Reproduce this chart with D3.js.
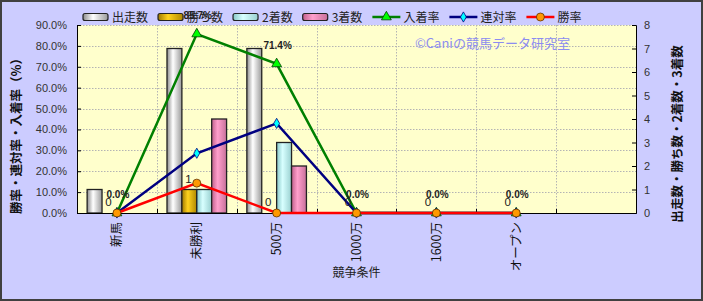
<!DOCTYPE html>
<html><head><meta charset="utf-8">
<script src="https://cdn.jsdelivr.net/npm/d3@7/dist/d3.min.js"></script>
<style>body{margin:0;background:#fff}svg{display:block}</style>
</head><body>
<script>
const categories = ["新馬","未勝利","500万","1000万","1600万","オープン"];
const slots = categories.concat([" "]);
const runs   = [1,7,7,0,0,0];   // 出走数
const wins   = [0,1,0,0,0,0];   // 勝ち数
const second = [0,1,3,0,0,0];   // 2着数
const third  = [0,4,2,0,0,0];   // 3着数
const placeRate = [0,85.7,71.4,0,0,0]; // 入着率
const rentaiRate = [0,28.6,42.9,0,0,0]; // 連対率
const winRate = [0,14.3,0,0,0,0];       // 勝率
const leftTicks = [0,10,20,30,40,50,60,70,80,90];
const rightTicks = [0,1,2,3,4,5,6,7,8];
const barNames = ["出走数","勝ち数","2着数","3着数"];
const lineNames = ["入着率","連対率","勝率"];

const W=703,H=301;
const m={l:77,r:636,t:25,b:213};
const FONT='"Noto Sans CJK JP","Liberation Sans",sans-serif';
const svg=d3.select("body").append("svg").attr("width",W).attr("height",H);
const defs=svg.append("defs");
const grads=[["g0","#8c8c8c","#ffffff","#9a9a9a"],["g1","#a07800","#ffd21e","#b08800"],["g2","#88c8c8","#d8ffff","#99d0d0"],["g3","#c0608c","#ff9fcc","#c8709a"]];
grads.forEach(g=>{const lg=defs.append("linearGradient").attr("id",g[0]).attr("x1","0").attr("x2","1").attr("y1","0").attr("y2","0");
lg.append("stop").attr("offset","0%").attr("stop-color",g[1]);
lg.append("stop").attr("offset","40%").attr("stop-color",g[2]);
lg.append("stop").attr("offset","100%").attr("stop-color",g[3]);});

svg.append("rect").attr("x",1).attr("y",1).attr("width",W-2).attr("height",H-2).attr("fill","#ccccff").attr("stroke","#404040").attr("stroke-width",2);
svg.append("rect").attr("x",m.l).attr("y",m.t).attr("width",m.r-m.l).attr("height",m.b-m.t).attr("fill","#ffffcc");

const x=d3.scaleBand().domain(slots).range([m.l,m.r]);
const yL=d3.scaleLinear().domain([0,90]).range([m.b,m.t]);
const yR=d3.scaleLinear().domain([0,8]).range([m.b,m.t]);
const xi=d3.scaleBand().domain(barNames).range([0,x.bandwidth()]).paddingOuter(0.68);
const cx=c=>x(c)+x.bandwidth()/2;

// grid
const grid=svg.append("g").attr("stroke","#b4b4b4").attr("stroke-dasharray","1.5,1.5").attr("stroke-width",1);
leftTicks.slice(1).forEach(t=>grid.append("line").attr("x1",m.l).attr("x2",m.r).attr("y1",Math.round(yL(t))+0.5).attr("y2",Math.round(yL(t))+0.5));
slots.slice(1).forEach(s=>grid.append("line").attr("x1",Math.round(x(s))+0.5).attr("x2",Math.round(x(s))+0.5).attr("y1",m.t).attr("y2",m.b));

// watermark
svg.append("text").attr("x",415).attr("y",48).attr("font-family",FONT).attr("font-size",13).attr("fill","#8c8cf0").text("©Caniの競馬データ研究室");

// bars
const barSeries=[runs,wins,second,third];
barSeries.forEach((vals,si)=>{
  svg.append("g").selectAll("rect").data(vals).join("rect")
   .attr("x",(d,i)=>x(categories[i])+xi(barNames[si]))
   .attr("width",xi.bandwidth())
   .attr("y",d=>yR(d)).attr("height",d=>m.b-yR(d))
   .attr("fill",`url(#g${si})`).attr("stroke","#222").attr("stroke-width",1.3)
   .attr("display",d=>d>0?null:"none");
});

// axes
const axL=svg.append("g").attr("transform",`translate(${m.l},0)`).call(d3.axisLeft(yL).tickValues(leftTicks).tickSize(-4).tickPadding(10).tickFormat(d=>d.toFixed(1)+"%"));
const axR=svg.append("g").attr("transform",`translate(${m.r},0)`).call(d3.axisRight(yR).tickValues(rightTicks).tickSize(-4).tickPadding(8));
const axB=svg.append("g").attr("transform",`translate(0,${m.b})`).call(d3.axisBottom(x).tickSize(0).tickFormat(""));
[axL,axR,axB].forEach(a=>{a.select(".domain").attr("stroke","#000");a.selectAll("line").attr("stroke","#000");a.selectAll("text").attr("font-family",'"Liberation Sans",Arial,sans-serif').attr("font-size",11).attr("fill","#333");});
// category boundary ticks
svg.append("g").selectAll("line").data(slots.slice(1)).join("line").attr("x1",d=>Math.round(x(d))+0.5).attr("x2",d=>Math.round(x(d))+0.5).attr("y1",m.b).attr("y2",m.b-4).attr("stroke","#000");
// category labels
svg.append("g").selectAll("text").data(categories).join("text")
 .attr("transform",d=>`translate(${cx(d)+4.5},${m.b+9}) rotate(-90)`)
 .attr("text-anchor","end").attr("font-family",FONT).attr("font-size",12.5).attr("fill","#111").text(d=>d);

// lines
const lineSeries=[[placeRate,"#008000"],[rentaiRate,"#000080"],[winRate,"#ff0000"]];
const lineGen=d3.line().x((d,i)=>cx(categories[i])).y(d=>yL(d));
lineSeries.forEach(([vals,col])=>{
  svg.append("path").datum(vals).attr("d",lineGen).attr("fill","none").attr("stroke",col).attr("stroke-width",2.5);
});
function marker(g,type,px,py){
  if(type===0) g.append("path").attr("d",d3.symbol(d3.symbolTriangle,42)()).attr("transform",`translate(${px},${py})`).attr("fill","#00ff00").attr("stroke","#004000").attr("stroke-width",0.8);
  else if(type===1) g.append("path").attr("d",d3.symbol(d3.symbolDiamond,30)()).attr("transform",`translate(${px},${py})`).attr("fill","#00ffff").attr("stroke","#000080").attr("stroke-width",0.8);
  else g.append("circle").attr("cx",px).attr("cy",py).attr("r",4).attr("fill","#ff9900").attr("stroke","#603000").attr("stroke-width",0.8);
}
const mg=svg.append("g");
lineSeries.forEach(([vals],si)=>vals.forEach((v,i)=>marker(mg,si,cx(categories[i]),yL(v))));

// data labels
svg.append("g").selectAll("text").data(wins).join("text")
 .attr("x",(d,i)=>x(categories[i])+xi("勝ち数")+xi.bandwidth()/2-1).attr("y",d=>yR(d)-7)
 .attr("text-anchor","middle").attr("font-family",'"Liberation Sans",Arial,sans-serif').attr("font-size",11.5).attr("fill","#222").text(d=>d);
svg.append("g").selectAll("text").data(placeRate).join("text")
 .attr("x",(d,i)=>cx(categories[i])+1).attr("y",d=>yL(d)-15)
 .attr("text-anchor","middle").attr("font-family",'"Liberation Sans",Arial,sans-serif').attr("font-size",10).attr("font-weight","bold").attr("fill","#222").text(d=>d.toFixed(1)+"%");

// legend
const lg=svg.append("g").attr("font-family",FONT).attr("font-size",12).attr("fill","#222");
let lx=83; const ly=17;
barNames.forEach((n,i)=>{
  lg.append("rect").attr("x",lx).attr("y",ly-3.5).attr("width",25).attr("height",7).attr("rx",2).attr("fill",`url(#g${i})`).attr("stroke","#222").attr("stroke-width",1.2);
  const t=lg.append("text").attr("x",lx+29).attr("y",ly+4.5).text(n);
  lx+=29+t.node().getComputedTextLength()+10;
});
lineNames.forEach((n,i)=>{
  const col=lineSeries[i][1];
  lg.append("line").attr("x1",lx).attr("x2",lx+28).attr("y1",ly).attr("y2",ly).attr("stroke",col).attr("stroke-width",2.5);
  marker(lg,i,lx+14,ly);
  const t=lg.append("text").attr("x",lx+31).attr("y",ly+4.5).text(n);
  lx+=31+t.node().getComputedTextLength()+10;
});

// axis titles
svg.append("text").attr("transform",`translate(21,133) rotate(-90)`).attr("text-anchor","middle").attr("font-family",FONT).attr("font-size",12.5).attr("font-weight","bold").attr("fill","#111").text("勝率・連対率・入着率（%）");
svg.append("text").attr("transform",`translate(682,134) rotate(-90)`).attr("text-anchor","middle").attr("font-family",FONT).attr("font-size",12.5).attr("font-weight","bold").attr("fill","#111").text("出走数・勝ち数・2着数・3着数");
svg.append("text").attr("x",(m.l+m.r)/2).attr("y",277).attr("text-anchor","middle").attr("font-family",FONT).attr("font-size",12).attr("fill","#222").text("競争条件");
</script>
</body></html>
